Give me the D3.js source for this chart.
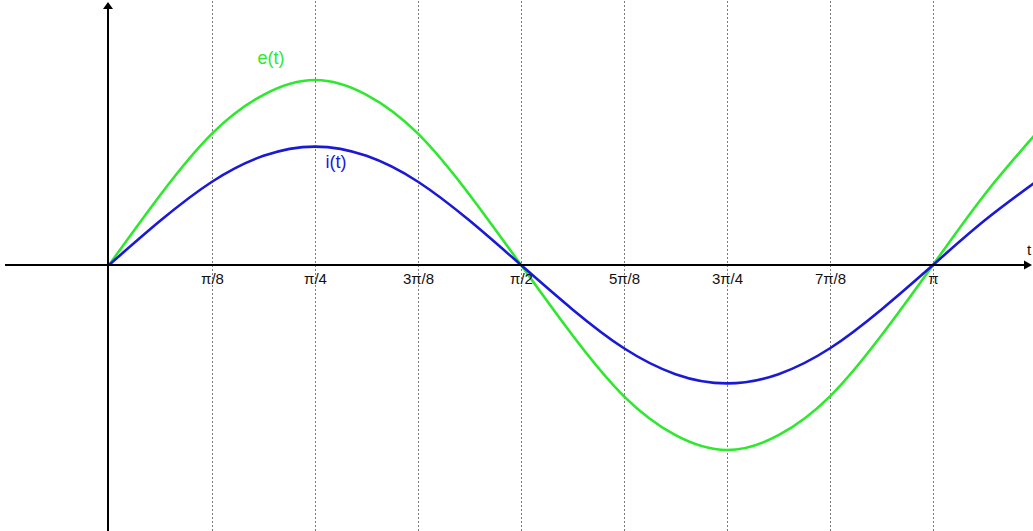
<!DOCTYPE html>
<html>
<head>
<meta charset="utf-8">
<script src="https://cdn.jsdelivr.net/npm/d3@7"></script>
<style>
  html, body { margin: 0; padding: 0; background: #fff; }
  svg { display: block; }
  .tick text { font-family: "Liberation Sans", Arial, sans-serif; }
</style>
</head>
<body>
<svg id="chart" width="1033" height="531"></svg>
<script>
// t in multiples of π, sampled every π/16
const tSamples = [0, 0.0625, 0.125, 0.1875, 0.25, 0.3125, 0.375, 0.4375, 0.5,
                  0.5625, 0.625, 0.6875, 0.75, 0.8125, 0.875, 0.9375, 1.0, 1.0625, 1.125];
// e(t): applied voltage
const eValues = [0, 0.38, 0.71, 0.92, 1.00, 0.92, 0.71, 0.38, 0,
                 -0.38, -0.71, -0.92, -1.00, -0.92, -0.71, -0.38, 0, 0.38, 0.71];
// i(t): current, in phase with e(t)
const iValues = [0, 0.24, 0.45, 0.59, 0.64, 0.59, 0.45, 0.24, 0,
                 -0.24, -0.45, -0.59, -0.64, -0.59, -0.45, -0.24, 0, 0.24, 0.45];
// gridline positions and labels along t
const tickValues = [0.125, 0.25, 0.375, 0.5, 0.625, 0.75, 0.875, 1.0];
const tickLabels = ["π/8", "π/4", "3π/8", "π/2", "5π/8", "3π/4", "7π/8", "π"];
const seriesNames = ["e(t)", "i(t)"];

const W = 1033, H = 531;
const svg = d3.select("#chart");

const x = d3.scaleLinear().domain([0, 1]).range([109, 933]);
const y = d3.scaleLinear().domain([-1, 1]).range([450, 80]);

// vertical dotted gridlines
const grid = svg.append("g")
  .attr("transform", `translate(0,${H})`)
  .call(d3.axisBottom(x).tickValues(tickValues).tickSize(-H).tickFormat(""));
grid.select(".domain").remove();
grid.selectAll(".tick line")
  .attr("stroke", "#7a7a7a")
  .attr("stroke-width", 1)
  .attr("stroke-dasharray", "2,2");

// curves
const line = d3.line().x(d => x(d[0])).y(d => y(d[1])).curve(d3.curveNatural);
svg.append("defs").append("clipPath").attr("id", "clip")
  .append("rect").attr("x", 0).attr("y", 0).attr("width", W).attr("height", H);

const series = [
  { name: seriesNames[0], values: eValues, color: "#2ee82e" },
  { name: seriesNames[1], values: iValues, color: "#1a1ad6" }
];
svg.append("g").attr("clip-path", "url(#clip)")
  .selectAll("path").data(series).join("path")
  .attr("d", s => line(tSamples.map((t, k) => [t, s.values[k]])))
  .attr("fill", "none")
  .attr("stroke", s => s.color)
  .attr("stroke-width", 2.6);

// horizontal t axis with labels
const xAxis = svg.append("g")
  .attr("transform", `translate(0,${y(0)})`)
  .call(d3.axisBottom(x).tickValues(tickValues).tickSize(0)
    .tickFormat((d, k) => tickLabels[k]));
xAxis.select(".domain").remove();
xAxis.selectAll(".tick text")
  .attr("dy", "1.05em")
  .attr("font-size", 15)
  .attr("fill", "#111");

svg.append("line")
  .attr("x1", 5).attr("x2", 1026)
  .attr("y1", y(0)).attr("y2", y(0))
  .attr("stroke", "#000").attr("stroke-width", 2);
svg.append("path")
  .attr("d", `M1032,${y(0)} L1024,${y(0) - 4.5} L1024,${y(0) + 4.5} Z`)
  .attr("fill", "#000");
svg.append("text")
  .attr("x", 1029).attr("y", y(0) - 10)
  .attr("text-anchor", "middle")
  .attr("font-family", "Liberation Sans, Arial, sans-serif")
  .attr("font-size", 15).attr("fill", "#111")
  .text("t");

// vertical axis
svg.append("line")
  .attr("x1", x(0) - 1).attr("x2", x(0) - 1)
  .attr("y1", 9).attr("y2", H)
  .attr("stroke", "#000").attr("stroke-width", 2);
svg.append("path")
  .attr("d", `M${x(0) - 1},2 L${x(0) - 6},9 L${x(0) + 4},9 Z`)
  .attr("fill", "#000");

// series labels
svg.append("text")
  .attr("x", 271).attr("y", 64)
  .attr("text-anchor", "middle")
  .attr("font-family", "Liberation Sans, Arial, sans-serif")
  .attr("font-size", 18).attr("fill", series[0].color)
  .text(series[0].name);
svg.append("text")
  .attr("x", 336).attr("y", 168)
  .attr("text-anchor", "middle")
  .attr("font-family", "Liberation Sans, Arial, sans-serif")
  .attr("font-size", 18).attr("fill", series[1].color)
  .text(series[1].name);
</script>
</body>
</html>
